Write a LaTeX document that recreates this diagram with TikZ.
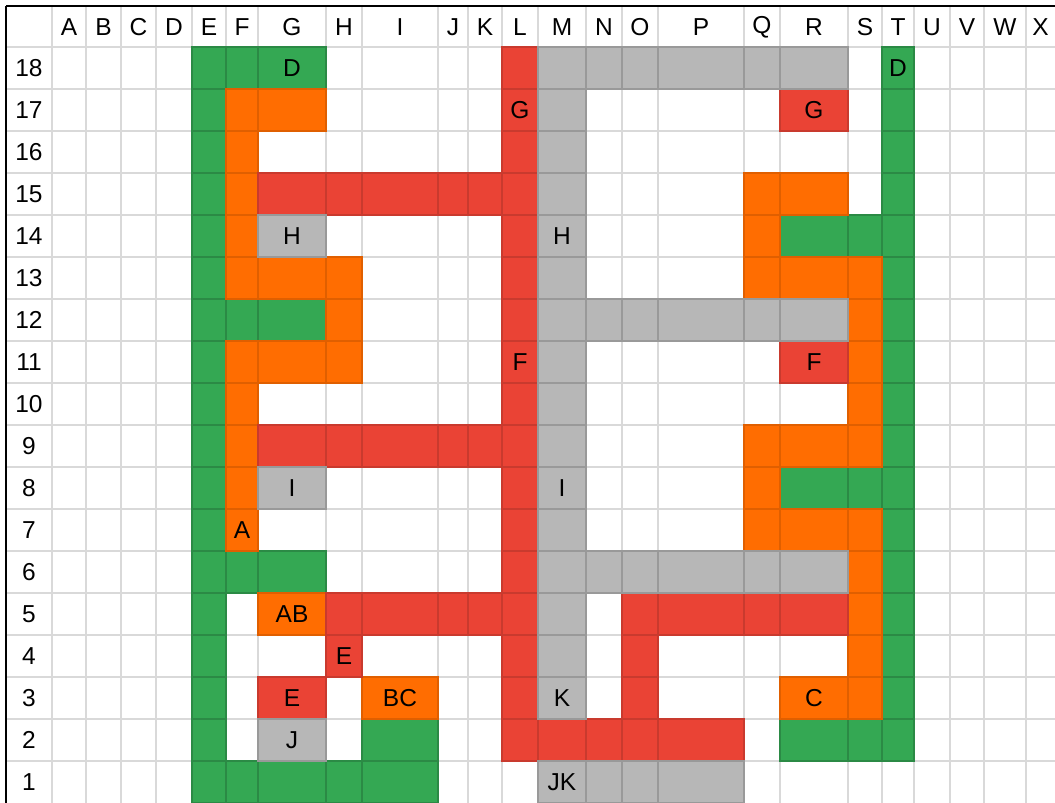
\documentclass[tikz,border=0pt]{standalone}
\usepackage{fontspec}
\setmainfont{Liberation Sans}
\usepackage{xcolor}
\usepackage{tikz}
\usetikzlibrary{calc}
\definecolor{gridgray}{HTML}{D9D9D9}
\definecolor{sgreen}{HTML}{34A853}
\definecolor{sgreenb}{HTML}{2B8A45}
\definecolor{sorange}{HTML}{FF6D01}
\definecolor{sorangeb}{HTML}{E05F00}
\definecolor{sred}{HTML}{EA4335}
\definecolor{sredb}{HTML}{C93A2E}
\definecolor{sgray}{HTML}{B7B7B7}
\definecolor{sgrayb}{HTML}{999999}
\tikzstyle{gridline} = [draw=gridgray, line width=1.4pt]
\tikzstyle{frameline} = [draw=black, line width=2.2pt]
\tikzstyle{greencell} = [fill=sgreen, draw=sgreenb, line width=1.5pt]
\tikzstyle{orangecell} = [fill=sorange, draw=sorangeb, line width=1.5pt]
\tikzstyle{redcell} = [fill=sred, draw=sredb, line width=1.5pt]
\tikzstyle{graycell} = [fill=sgray, draw=sgrayb, line width=1.5pt]
\tikzstyle{celltext} = [font=\fontsize{24.5}{27}\selectfont, inner sep=0pt, text=black]
\tikzstyle{headtext} = [font=\fontsize{24.5}{27}\selectfont, inner sep=0pt, text=black]
\newcommand{\cellbox}[3]{\draw[#3] (#1-l |- r#2-t) rectangle (#1-r |- r#2-b);}

\begin{document}
\begin{tikzpicture}[x=1pt, y=-1pt]
    \useasboundingbox (0,0) rectangle (1055,803);

    % === COLUMNS and ROWS ===
    \foreach \c/\l/\r in {hd/6/52, A/52/86, B/86/121, C/121/156, D/156/192, E/192/226, F/226/258,
        G/258/326, H/326/362, I/362/438, J/438/468, K/468/502, L/502/538, M/538/586, N/586/622,
        O/622/658, P/658/744, Q/744/780, R/780/848, S/848/882, T/882/914, U/914/950, V/950/984,
        W/984/1026, X/1026/1055} {
        \coordinate (\c-l) at (\l,0);
        \coordinate (\c-r) at (\r,0);
        \coordinate (\c-c) at ({(\l+\r)/2},0);
    }
    \coordinate (r19-t) at (0,6);
    \coordinate (r19-b) at (0,47);
    \coordinate (r19-c) at (0,27);
    \foreach \n in {1,...,18} {
        \pgfmathsetmacro\yt{47+(18-\n)*42}
        \coordinate (r\n-t) at (0,\yt);
        \coordinate (r\n-b) at (0,\yt+42);
        \coordinate (r\n-c) at (0,\yt+21);
    }

    % === GRID ===
    \foreach \c in {A,B,C,D,E,F,G,H,I,J,K,L,M,N,O,P,Q,R,S,T,U,V,W,X}
        \draw[gridline] (\c-l |- r19-t) -- (\c-l |- r1-b);
    \foreach \n in {1,...,18}
        \draw[gridline] (hd-l |- r\n-t) -- (X-r |- r\n-t);

    % === HEADERS ===
    \foreach \c in {A,B,C,D,E,F,G,H,I,J,K,L,M,N,O,P,Q,R,S,T,U,V,W,X}
        \node[headtext] (col\c) at (\c-c |- r19-c) {\c};
    \foreach \n in {1,...,18}
        \node[headtext] (row\n) at (hd-c |- r\n-c) {\n};

    % === GREEN ===
    \foreach \n in {1,...,17} {\cellbox{E}{\n}{greencell}}
    \foreach \n in {2,...,18} {\cellbox{T}{\n}{greencell}}
    \foreach \c/\n in {E/18, F/18, G/18, F/12, G/12, F/6, G/6, R/14, S/14, R/8, S/8,
        R/2, S/2, I/2, F/1, G/1, H/1, I/1} {\cellbox{\c}{\n}{greencell}}

    % === ORANGE ===
    \foreach \c/\n in {F/17, G/17, F/16, F/15, F/14, F/13, G/13, H/13, H/12, F/11, G/11, H/11,
        F/10, F/9, F/8, F/7, G/5, I/3, Q/15, R/15, Q/14, Q/13, R/13, S/13, S/12, S/11, S/10,
        Q/9, R/9, S/9, Q/8, Q/7, R/7, S/7, S/6, S/5, S/4, S/3, R/3} {\cellbox{\c}{\n}{orangecell}}

    % === RED ===
    \foreach \n in {2,...,18} {\cellbox{L}{\n}{redcell}}
    \foreach \c/\n in {G/15, H/15, I/15, J/15, K/15, G/9, H/9, I/9, J/9, K/9, H/5, I/5, J/5, K/5,
        H/4, G/3, R/17, R/11, O/5, P/5, Q/5, R/5, O/4, O/3, M/2, N/2, O/2, P/2} {\cellbox{\c}{\n}{redcell}}

    % === GRAY ===
    \foreach \n in {3,...,18} {\cellbox{M}{\n}{graycell}}
    \foreach \c/\n in {N/18, O/18, P/18, Q/18, R/18, N/12, O/12, P/12, Q/12, R/12,
        N/6, O/6, P/6, Q/6, R/6, G/14, G/8, G/2, M/1, N/1, O/1, P/1} {\cellbox{\c}{\n}{graycell}}

    % === FRAME ===
    \draw[frameline] (hd-l |- r19-t) -- (X-r |- r19-t);
    \draw[frameline] (hd-l |- r19-t) -- (hd-l |- r1-b);

    % === CELL TEXT ===
    \foreach \c/\n/\t in {G/18/D, T/18/D, L/17/G, R/17/G, G/14/H, M/14/H, L/11/F, R/11/F,
        G/8/I, M/8/I, F/7/A, G/5/AB, H/4/E, G/3/E, I/3/BC, M/3/K, R/3/C, G/2/J, M/1/JK}
        \node[celltext] (txt\c\n) at (\c-c |- r\n-c) {\t};
\end{tikzpicture}
\end{document}
